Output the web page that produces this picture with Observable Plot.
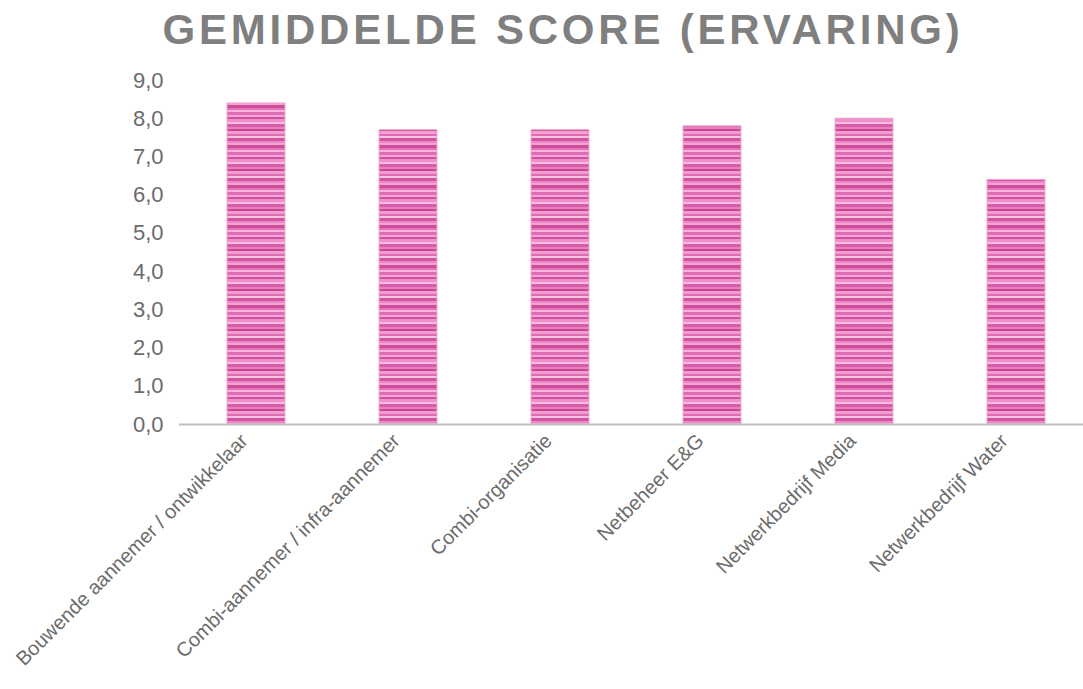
<!DOCTYPE html>
<html>
<head>
<meta charset="utf-8">
<script src="https://cdn.jsdelivr.net/npm/d3@7"></script>
<script src="https://cdn.jsdelivr.net/npm/@observablehq/plot@0.6"></script>
<style>
  html, body { margin: 0; padding: 0; background: #fff; }
  #title {
    height: 72px; width: 1083px; text-align: center;
    font-family: "Liberation Sans", Arial, sans-serif; font-weight: bold;
    font-size: 42px; letter-spacing: 3.8px; color: #7f7f7f;
    line-height: 60px; padding-left: 43px; box-sizing: border-box;
  }
  svg { overflow: visible; display: block; }
</style>
</head>
<body>
<div id="title">GEMIDDELDE SCORE (ERVARING)</div>
<div id="chart"></div>
<script>
const categories = [
  "Bouwende aannemer / ontwikkelaar",
  "Combi-aannemer / infra-aannemer",
  "Combi-organisatie",
  "Netbeheer E&G",
  "Netwerkbedrijf Media",
  "Netwerkbedrijf Water"
];
const values = [8.4, 7.7, 7.7, 7.8, 8.0, 6.4];
const yTicks = [0, 1, 2, 3, 4, 5, 6, 7, 8, 9];

const data = categories.map((c, i) => ({category: c, value: values[i]}));

const chart = Plot.plot({
  width: 1083,
  height: 617,
  marginTop: 8,
  marginBottom: 265,
  marginLeft: 179,
  marginRight: 0,
  style: {fontFamily: "'Liberation Sans', Arial, sans-serif", fontSize: "16px", color: "#6b6b6b"},
  x: {domain: categories, range: [179, 1093], paddingInner: 0.62, paddingOuter: 0.31, label: null},
  y: {domain: [0, 9], label: null},
  marks: [
    Plot.barY(data, {x: "category", y: "value", fill: "url(#stripes)", stroke: "#eeaad6", strokeWidth: 1}),
    Plot.ruleY([0], {stroke: "#bfbfbf", strokeWidth: 2}),
    Plot.axisY({ticks: yTicks, tickSize: 0, tickPadding: 16, tickFormat: d => d.toFixed(1).replace(".", ","), fontSize: 22, label: null}),
    Plot.axisX({tickSize: 0, tickPadding: 13, tickRotate: -45, fontSize: 20, dx: -12, label: null})
  ]
});

const svg = d3.select(chart);
const defs = svg.insert("defs", ":first-child");
const pat = defs.append("pattern")
  .attr("id", "stripes")
  .attr("patternUnits", "userSpaceOnUse")
  .attr("width", 20).attr("height", 40);
const stripes = [
  ["#e26cb4", 3], ["#f4a8d8", 2], ["#cf509d", 2], ["#ec8fca", 3], ["#f7bde2", 2],
  ["#d85ca8", 3], ["#e77fc0", 2], ["#c8488f", 2], ["#f29ed3", 3], ["#e06ab2", 2],
  ["#f7c3e4", 2], ["#d254a0", 3], ["#ea86c6", 2], ["#f3a3d6", 2], ["#cc4d98", 3],
  ["#e574bb", 2], ["#f5b3dd", 2]
];
let yy = 0;
for (const [c, h] of stripes) {
  pat.append("rect").attr("x", 0).attr("y", yy).attr("width", 20).attr("height", h).attr("fill", c);
  yy += h;
}
pat.attr("height", yy);

document.getElementById("chart").appendChild(chart);
</script>
</body>
</html>
